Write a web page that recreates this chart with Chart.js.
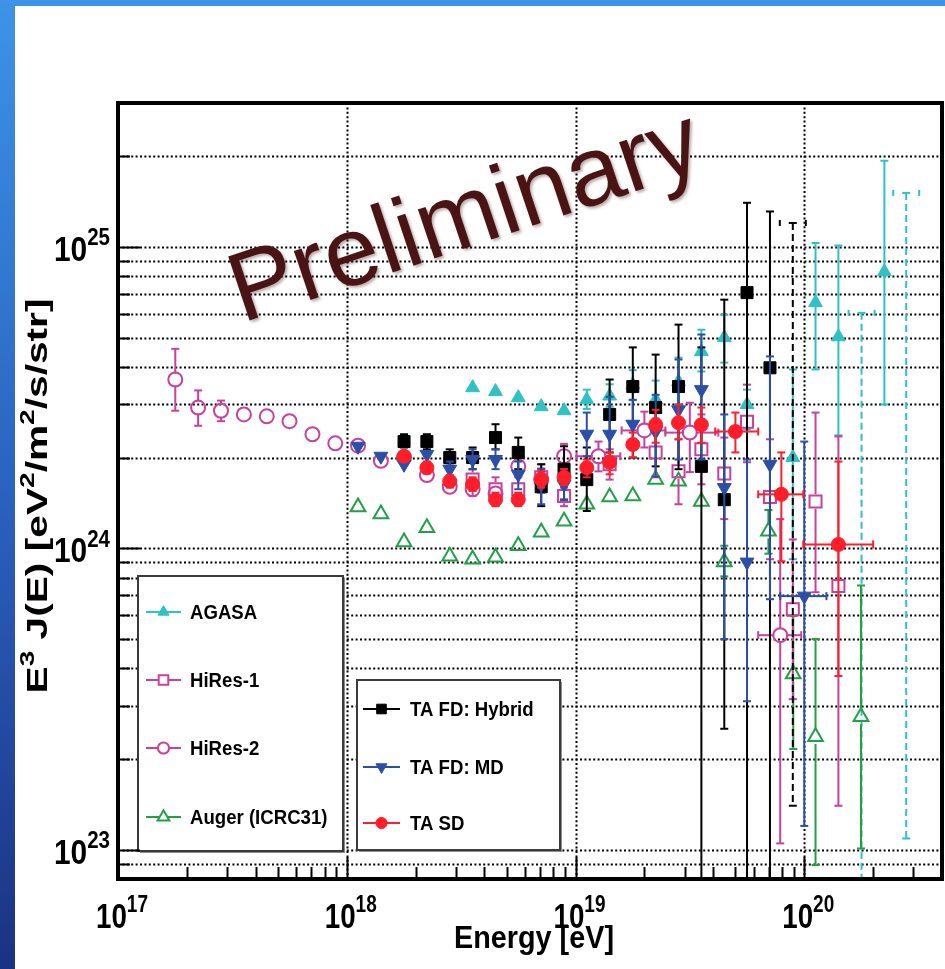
<!DOCTYPE html>
<html>
<head>
<meta charset="utf-8">
<script src="https://cdn.jsdelivr.net/npm/chart.js@4.4.1/dist/chart.umd.min.js"></script>
<style>
  html, body { margin: 0; padding: 0; background: #fff; }
  #wrap { width: 945px; height: 969px; }
</style>
</head>
<body>
<div id="wrap"><canvas id="spectrum" width="945" height="969"></canvas></div>
<script>
// axis ranges
const xMin = 1e17, xMax = 4e20;
const yMin = 8e22, yMax = 3e25;
const xDecades = [1e17, 1e18, 1e19, 1e20];
const yDecades = [1e23, 1e24, 1e25];

// HiRes-2 (monocular)
const hires2E = [1.78e17, 2.24e17, 2.82e17, 3.55e17, 4.47e17, 5.62e17, 7.08e17, 8.91e17, 1.12e18, 1.41e18, 1.78e18, 2.24e18, 2.82e18, 3.55e18, 4.47e18, 5.62e18, 7.08e18, 8.91e18, 1.26e19, 2.0e19, 3.16e19, 7.85e19];
const hires2Flux = [3.63e24, 2.93e24, 2.86e24, 2.78e24, 2.74e24, 2.64e24, 2.39e24, 2.23e24, 2.19e24, 1.95e24, 2.0e24, 1.75e24, 1.60e24, 1.57e24, 1.52e24, 1.87e24, 1.69e24, 2.02e24, 2.02e24, 2.46e24, 2.42e24, 5.15e23];
const hires2Hi = [4.59e24, 3.34e24, 3.09e24, null, null, null, null, null, null, null, null, null, null, null, null, 2.0e24, 1.84e24, 2.22e24, 2.26e24, 2.84e24, 3.04e24, 1.25e24];
const hires2Lo = [2.86e24, 2.55e24, 2.64e24, null, null, null, null, null, null, null, null, null, null, null, null, 1.74e24, 1.54e24, 1.83e24, 1.80e24, 2.16e24, 1.79e24, 1.05e23];
const hires2ELo = [null, null, null, null, null, null, null, null, null, null, null, null, null, null, null, null, null, null, 1.01e19, 1.59e19, 2.47e19, 6.29e19];
const hires2EHi = [null, null, null, null, null, null, null, null, null, null, null, null, null, null, null, null, null, null, 1.57e19, 2.47e19, 4.21e19, 9.7e19];

// HiRes-1 (monocular)
const hires1E = [3.55e18, 4.47e18, 5.62e18, 7.08e18, 8.91e18, 1.41e19, 2.24e19, 2.82e19, 3.55e19, 4.47e19, 5.62e19, 7.08e19, 8.91e19, 1.12e20, 1.41e20];
const hires1Flux = [1.69e24, 1.57e24, 1.57e24, 1.72e24, 1.49e24, 1.90e24, 2.08e24, 1.80e24, 2.13e24, 1.77e24, 2.63e24, 1.48e24, 6.28e23, 1.43e24, 7.5e23];
const hires1Hi = [1.94e24, 1.72e24, 1.72e24, 1.90e24, 1.59e24, 2.13e24, 2.48e24, 2.30e24, 2.78e24, 2.33e24, 3.49e24, 2.30e24, 1.07e24, 2.82e24, 2.35e24];
const hires1Lo = [1.49e24, 1.42e24, 1.42e24, 1.53e24, 1.38e24, 1.69e24, 1.72e24, 1.40e24, 1.63e24, 1.25e24, 1.93e24, 9.2e23, 3.16e23, 7.15e23, 1.40e23];

// AGASA
const agasaE = [3.55e18, 4.47e18, 5.62e18, 7.08e18, 8.91e18, 1.12e19, 1.41e19, 1.78e19, 2.24e19, 2.82e19, 3.55e19, 4.47e19, 5.62e19, 8.91e19, 1.12e20, 1.41e20, 2.24e20];
const agasaFlux = [3.41e24, 3.31e24, 3.16e24, 2.95e24, 2.86e24, 3.11e24, 3.2e24, 3.49e24, 3.11e24, 3.57e24, 4.49e24, 5.0e24, 3.0e24, 2.0e24, 6.53e24, 5.03e24, 8.26e24];
const agasaHi = [null, null, null, null, null, 3.36e24, 3.5e24, 3.9e24, 3.6e24, 4.29e24, 5.31e24, 5.95e24, 3.36e24, 3.92e24, 1.03e25, 1.01e25, 1.93e25];
const agasaLo = [null, null, null, null, null, 2.9e24, 2.95e24, 3.1e24, 2.7e24, 3.0e24, 3.86e24, 4.13e24, 2.48e24, 9.2e23, 3.92e24, 2.37e24, 3.0e24];
// AGASA bins drawn with dashed bars only
const agasaLimitE = [1.78e20, 2.79e20];
const agasaLimitHi = [6.04e24, 1.51e25];
const agasaLimitLo = [7e22, 1.09e23];

// Auger (ICRC 2009)
const augerE = [1.12e18, 1.41e18, 1.78e18, 2.24e18, 2.82e18, 3.55e18, 4.47e18, 5.62e18, 7.08e18, 8.91e18, 1.12e19, 1.41e19, 1.78e19, 2.24e19, 2.82e19, 3.55e19, 4.47e19, 6.97e19, 8.95e19, 1.12e20, 1.77e20];
const augerFlux = [1.37e24, 1.30e24, 1.05e24, 1.17e24, 9.42e23, 9.2e23, 9.34e23, 1.02e24, 1.13e24, 1.23e24, 1.40e24, 1.48e24, 1.49e24, 1.69e24, 1.67e24, 1.43e24, 9.0e23, 1.14e24, 3.83e23, 2.37e23, 2.76e23];
const augerHi = [null, null, null, null, null, null, null, null, null, null, null, null, null, null, null, null, 1.02e24, 1.34e24, 5.96e23, 5.0e23, 7.53e23];
const augerLo = [null, null, null, null, null, null, null, null, null, null, null, null, null, null, null, null, 8.07e23, 9.6e23, 2.16e23, 8.9e22, 1.01e23];

// TA FD hybrid
const hybridE = [1.78e18, 2.24e18, 2.82e18, 3.55e18, 4.47e18, 5.62e18, 7.08e18, 8.91e18, 1.12e19, 1.41e19, 1.78e19, 2.24e19, 2.82e19, 3.55e19, 4.47e19, 5.62e19, 7.08e19];
const hybridFlux = [2.26e24, 2.26e24, 2.0e24, 2.0e24, 2.33e24, 2.08e24, 1.60e24, 1.83e24, 1.69e24, 2.78e24, 3.44e24, 2.93e24, 3.44e24, 1.87e24, 1.45e24, 7.05e24, 3.97e24];
const hybridHi = [2.39e24, 2.39e24, 2.13e24, 2.16e24, 2.58e24, 2.33e24, 1.90e24, 2.18e24, 2.16e24, 3.63e24, 4.64e24, 4.39e24, 5.52e24, 4.64e24, 6.68e24, 1.40e25, 1.31e25];
const hybridLo = [2.16e24, 2.13e24, 1.88e24, 1.83e24, 2.13e24, 1.83e24, 1.38e24, 1.45e24, 1.33e24, 2.08e24, 2.0e24, 1.87e24, 1.83e24, 7e22, 2.52e23, 7e22, 7e22];
const hybridLimitE = [8.91e19];
const hybridLimitHi = [1.20e25];
const hybridLimitLo = [1.40e23];

// TA FD monocular (MD)
const mdE = [1.12e18, 1.41e18, 1.78e18, 2.24e18, 2.82e18, 3.55e18, 4.47e18, 5.62e18, 7.08e18, 8.91e18, 1.12e19, 1.41e19, 1.78e19, 2.24e19, 2.82e19, 3.55e19, 4.47e19, 5.62e19, 7.08e19, 1.0e20];
const mdFlux = [2.18e24, 2.02e24, 1.90e24, 2.05e24, 1.83e24, 1.97e24, 1.97e24, 1.76e24, 1.63e24, 1.63e24, 2.39e24, 2.39e24, 2.58e24, 2.44e24, 2.88e24, 3.36e24, 1.59e24, 9.0e23, 1.90e24, 6.94e23];
const mdHi = [null, null, null, null, 1.94e24, 2.13e24, 2.13e24, 1.94e24, 1.83e24, 1.83e24, 2.82e24, 3.18e24, 3.11e24, 3.23e24, 4.23e24, 5.12e24, 2.78e24, 1.97e24, 4.33e24, 2.26e24];
const mdLo = [null, null, null, null, 1.72e24, 1.83e24, 1.83e24, 1.57e24, 1.40e24, 1.45e24, 2.02e24, 1.97e24, 2.13e24, 1.73e24, 1.97e24, 1.97e24, 5.0e23, 3.11e23, 6.78e23, 1.20e23];
const mdELo = [null, null, null, null, null, null, null, null, null, null, null, null, null, null, null, null, null, null, null, 7.85e19];
const mdEHi = [null, null, null, null, null, null, null, null, null, null, null, null, null, null, null, null, null, null, null, 1.25e20];

// TA SD
const sdE = [1.78e18, 2.24e18, 2.82e18, 3.55e18, 4.47e18, 5.62e18, 7.08e18, 8.91e18, 1.12e19, 1.41e19, 1.78e19, 2.24e19, 2.82e19, 3.55e19, 5.0e19, 7.94e19, 1.41e20];
const sdFlux = [2.02e24, 1.85e24, 1.67e24, 1.63e24, 1.45e24, 1.45e24, 1.69e24, 1.72e24, 1.85e24, 1.93e24, 2.21e24, 2.57e24, 2.61e24, 2.57e24, 2.44e24, 1.51e24, 1.03e24];
const sdHi = [2.10e24, 1.94e24, 1.75e24, 1.72e24, 1.53e24, 1.53e24, 1.80e24, 1.83e24, 1.97e24, 2.08e24, 2.42e24, 2.88e24, 3.0e24, 2.93e24, 2.82e24, 2.08e24, 1.94e24];
const sdLo = [1.94e24, 1.77e24, 1.59e24, 1.55e24, 1.38e24, 1.38e24, 1.59e24, 1.62e24, 1.72e24, 1.76e24, 2.0e24, 2.24e24, 2.30e24, 2.24e24, 2.08e24, 9.06e23, 3.77e23];
const sdELo = [null, null, null, null, null, null, null, null, null, null, null, null, null, null, 4.08e19, 6.29e19, 9.9e19];
const sdEHi = [null, null, null, null, null, null, null, null, null, null, null, null, null, null, 6.29e19, 9.9e19, 2.0e20];

const COLORS = {
  agasa: '#2fc1c5',
  hires: '#c9409d',
  auger: '#22a046',
  hybrid: '#000000',
  md: '#2b4fa7',
  sd: '#ff1e2a'
};

const FONT = '"Liberation Sans", Arial, sans-serif';

const pick = (arr, i) => (arr ? arr[i] : null);
const toPoints = (e, f, hi, lo, eLo, eHi) => e.map((x, i) => ({
  x,
  y: f[i],
  yHi: pick(hi, i),
  yLo: pick(lo, i),
  xLo: pick(eLo, i),
  xHi: pick(eHi, i)
}));

const marker = (style, color, filled, radius, extra) => Object.assign({
  type: 'scatter',
  showLine: false,
  pointStyle: style,
  pointRadius: radius,
  pointHoverRadius: radius,
  pointBorderColor: color,
  pointBackgroundColor: filled ? color : 'rgba(255,255,255,0)',
  pointBorderWidth: filled ? 1 : 2,
  borderColor: color,
  backgroundColor: color,
  errorColor: color,
  errorGap: filled ? 0 : radius * 0.85
}, extra || {});

// first dataset is drawn on top
const datasets = [
  Object.assign(marker('circle', COLORS.sd, true, 7), { label: 'TA SD', data: toPoints(sdE, sdFlux, sdHi, sdLo, sdELo, sdEHi) }),
  Object.assign(marker('triangle', COLORS.md, true, 8, { pointRotation: 180 }), { label: 'TA FD: MD', data: toPoints(mdE, mdFlux, mdHi, mdLo, mdELo, mdEHi) }),
  Object.assign(marker('rect', COLORS.hybrid, true, 8.5), { label: 'TA FD: Hybrid', data: toPoints(hybridE, hybridFlux, hybridHi, hybridLo) }),
  Object.assign(marker('rect', COLORS.hybrid, true, 0, { errorDash: [7, 4], limitCap: true }), { label: 'hybrid-dashed', data: toPoints(hybridLimitE, hybridLimitHi, hybridLimitHi, hybridLimitLo) }),
  Object.assign(marker('circle', COLORS.hires, false, 7), { label: 'HiRes-2', data: toPoints(hires2E, hires2Flux, hires2Hi, hires2Lo, hires2ELo, hires2EHi) }),
  Object.assign(marker('rect', COLORS.hires, false, 8.5), { label: 'HiRes-1', data: toPoints(hires1E, hires1Flux, hires1Hi, hires1Lo) }),
  Object.assign(marker('triangle', COLORS.auger, false, 8.5), { label: 'Auger (ICRC31)', data: toPoints(augerE, augerFlux, augerHi, augerLo) }),
  Object.assign(marker('triangle', COLORS.agasa, true, 8), { label: 'AGASA', data: toPoints(agasaE, agasaFlux, agasaHi, agasaLo) }),
  Object.assign(marker('triangle', COLORS.agasa, true, 0, { errorDash: [7, 4], limitCap: true }), { label: 'agasa-dashed', data: toPoints(agasaLimitE, agasaLimitHi, agasaLimitHi, agasaLimitLo) })
];

const styleOf = (label) => datasets.find((d) => d.label === label);

// slide background: blue frame with white page
const slideBackground = {
  id: 'slideBackground',
  beforeDraw(chart) {
    const { ctx, width, height } = chart;
    const g = ctx.createLinearGradient(0, 0, 0, height);
    g.addColorStop(0, '#3d93e8');
    g.addColorStop(0.5, '#2a63c0');
    g.addColorStop(1, '#1b3282');
    ctx.save();
    ctx.fillStyle = g;
    ctx.fillRect(0, 0, width, height);
    ctx.fillStyle = '#ffffff';
    ctx.fillRect(15, 6, width - 15, height - 6);
    ctx.restore();
  }
};

// ROOT-style dotted grid and the big watermark
const gridPlugin = {
  id: 'rootGrid',
  beforeDatasetsDraw(chart) {
    const { ctx, chartArea: a, scales: { x, y } } = chart;
    ctx.save();
    ctx.strokeStyle = '#000';
    ctx.lineWidth = 1.8;
    ctx.setLineDash([2, 2.4]);
    yDecades.concat([1e22]).forEach((d) => {
      for (let m = 1; m <= 9; m++) {
        const v = d * m;
        if (v <= yMin || v >= yMax) continue;
        const py = Math.round(y.getPixelForValue(v)) + 0.5;
        ctx.beginPath();
        ctx.moveTo(a.left, py);
        ctx.lineTo(a.right, py);
        ctx.stroke();
      }
    });
    ctx.lineWidth = 2;
    xDecades.forEach((d) => {
      if (d <= xMin || d >= xMax) return;
      const px = Math.round(x.getPixelForValue(d)) + 0.5;
      ctx.beginPath();
      ctx.moveTo(px, a.top);
      ctx.lineTo(px, a.bottom);
      ctx.stroke();
    });
    ctx.restore();

    // watermark
    ctx.save();
    ctx.translate(242, 323);
    ctx.rotate(-18.5 * Math.PI / 180);
    ctx.font = `98px ${FONT}`;
    ctx.fillStyle = '#4b1414';
    ctx.shadowColor = 'rgba(60,20,20,0.35)';
    ctx.shadowBlur = 3;
    ctx.shadowOffsetX = 2;
    ctx.shadowOffsetY = 2;
    ctx.textBaseline = 'alphabetic';
    ctx.fillText('Preliminary', 0, 0);
    ctx.restore();
  }
};

// vertical / horizontal error bars, drawn under each dataset's markers
const errorBarPlugin = {
  id: 'errorBars',
  beforeDatasetDraw(chart, args) {
    const ds = chart.data.datasets[args.index];
    const { ctx, chartArea: a, scales: { x, y } } = chart;
    const cap = 4;
    const gap = ds.errorGap || 0;
    const seg = (x0, y0, x1, y1) => {
      ctx.beginPath();
      ctx.moveTo(x0, y0);
      ctx.lineTo(x1, y1);
      ctx.stroke();
    };
    ctx.save();
    ctx.beginPath();
    ctx.rect(a.left, a.top, a.width, a.height);
    ctx.clip();
    ctx.strokeStyle = ds.errorColor;
    ctx.lineWidth = 2;
    ds.data.forEach((p) => {
      const px = x.getPixelForValue(p.x);
      const py = y.getPixelForValue(p.y);
      if (p.yHi != null && p.yLo != null) {
        const top = y.getPixelForValue(p.yHi);
        const bot = y.getPixelForValue(p.yLo);
        ctx.setLineDash(ds.errorDash || []);
        if (py - gap > top) seg(px, top, px, py - gap);
        if (bot > py + gap) seg(px, py + gap, px, bot);
        ctx.setLineDash([]);
        seg(px - cap, top, px + cap, top);
        seg(px - cap, bot, px + cap, bot);
        if (ds.limitCap) {
          seg(px - 13, top - 3, px - 13, top + 3);
          seg(px + 13, top - 3, px + 13, top + 3);
        }
      }
      if (p.xLo != null && p.xHi != null) {
        const l = x.getPixelForValue(p.xLo);
        const r = x.getPixelForValue(p.xHi);
        if (px - gap > l) seg(l, py, px - gap, py);
        if (r > px + gap) seg(px + gap, py, r, py);
        seg(l, py - cap, l, py + cap);
        seg(r, py - cap, r, py + cap);
      }
    });
    ctx.restore();
  }
};

// rich text: [text, isSuperscript] pairs, squeezed horizontally to a given width
function richWidth(ctx, parts, size) {
  let w = 0;
  parts.forEach(([t, sup]) => {
    ctx.font = `bold ${sup ? Math.round(size * 0.68) : size}px ${FONT}`;
    w += ctx.measureText(t).width;
  });
  return w;
}
function drawRich(ctx, parts, x, y, size, width, align) {
  const raw = richWidth(ctx, parts, size);
  const squeeze = width / raw;
  let cx = align === 'center' ? x - width / 2 : align === 'right' ? x - width : x;
  ctx.save();
  ctx.fillStyle = '#000';
  ctx.textBaseline = 'alphabetic';
  ctx.textAlign = 'left';
  parts.forEach(([t, sup]) => {
    const fs = sup ? Math.round(size * 0.68) : size;
    ctx.font = `bold ${fs}px ${FONT}`;
    const tw = ctx.measureText(t).width;
    ctx.save();
    ctx.translate(cx, sup ? y - size * 0.45 : y);
    ctx.scale(squeeze, 1);
    ctx.fillText(t, 0, 0);
    ctx.restore();
    cx += tw * squeeze;
  });
  ctx.restore();
}

function drawLegendBox(ctx, box, rows) {
  ctx.save();
  ctx.fillStyle = '#8c8c8c';
  ctx.fillRect(box.x + 2, box.y + 2, box.w, box.h);
  ctx.fillStyle = '#fff';
  ctx.fillRect(box.x, box.y, box.w, box.h);
  ctx.strokeStyle = '#3a3a3a';
  ctx.lineWidth = 2;
  ctx.strokeRect(box.x, box.y, box.w, box.h);
  rows.forEach((r) => {
    const ds = styleOf(r.label);
    const cx = (box.x0 + box.x1) / 2;
    ctx.strokeStyle = ds.borderColor;
    ctx.lineWidth = 2;
    ctx.beginPath();
    ctx.moveTo(box.x0, r.y);
    ctx.lineTo(box.x1, r.y);
    ctx.stroke();
    // open markers blank the line behind them
    if (ds.pointBorderWidth > 1) {
      ctx.fillStyle = '#fff';
      Chart.helpers.drawPoint(ctx, {
        pointStyle: ds.pointStyle,
        rotation: ds.pointRotation || 0,
        radius: ds.pointRadius * 0.8,
        borderWidth: 0
      }, cx, r.y);
    }
    ctx.fillStyle = ds.pointBackgroundColor;
    ctx.strokeStyle = ds.pointBorderColor;
    ctx.lineWidth = ds.pointBorderWidth;
    Chart.helpers.drawPoint(ctx, {
      pointStyle: ds.pointStyle,
      rotation: ds.pointRotation || 0,
      radius: ds.pointRadius * 0.8,
      borderWidth: ds.pointBorderWidth
    }, cx, r.y);
    ctx.fillStyle = '#000';
    ctx.font = `bold 20px ${FONT}`;
    ctx.save();
    ctx.translate(box.tx, r.y + 7);
    ctx.scale(0.93, 1);
    ctx.fillText(r.label, 0, 0);
    ctx.restore();
  });
  ctx.restore();
}

// axes frame, ticks, labels and legends
const framePlugin = {
  id: 'rootFrame',
  afterDraw(chart) {
    const { ctx, chartArea: a, scales: { x, y } } = chart;

    drawLegendBox(ctx, { x: 138, y: 576, w: 205, h: 275, x0: 146, x1: 181, tx: 190 }, [
      { label: 'AGASA', y: 612 },
      { label: 'HiRes-1', y: 680 },
      { label: 'HiRes-2', y: 748 },
      { label: 'Auger (ICRC31)', y: 817 }
    ]);
    drawLegendBox(ctx, { x: 357, y: 680, w: 203, h: 170, x0: 363, x1: 400, tx: 410 }, [
      { label: 'TA FD: Hybrid', y: 709 },
      { label: 'TA FD: MD', y: 767 },
      { label: 'TA SD', y: 823 }
    ]);

    ctx.save();
    ctx.strokeStyle = '#000';
    ctx.lineWidth = 2;
    // y ticks on the left axis
    yDecades.concat([1e22]).forEach((d) => {
      for (let m = 1; m <= 9; m++) {
        const v = d * m;
        if (v <= yMin || v >= yMax) continue;
        const py = Math.round(y.getPixelForValue(v)) + 0.5;
        const len = m === 1 ? 22 : 12;
        ctx.beginPath();
        ctx.moveTo(a.left, py);
        ctx.lineTo(a.left + len, py);
        ctx.stroke();
      }
    });
    // x ticks on the bottom axis
    xDecades.forEach((d) => {
      for (let m = 1; m <= 9; m++) {
        const v = d * m;
        if (v <= xMin || v >= xMax) continue;
        const px = Math.round(x.getPixelForValue(v)) + 0.5;
        const len = m === 1 ? 22 : 12;
        ctx.beginPath();
        ctx.moveTo(px, a.bottom);
        ctx.lineTo(px, a.bottom - len);
        ctx.stroke();
      }
    });
    ctx.lineWidth = 4;
    ctx.strokeRect(a.left, a.top, a.right - a.left, a.bottom - a.top);
    ctx.restore();

    xDecades.forEach((d) => {
      const exp = String(Math.round(Math.log10(d)));
      drawRich(ctx, [['10', false], [exp, true]], x.getPixelForValue(d) + 4, 928, 35, 52, 'center');
    });
    yDecades.forEach((d) => {
      const exp = String(Math.round(Math.log10(d)));
      drawRich(ctx, [['10', false], [exp, true]], 110, y.getPixelForValue(d) + 14, 35, 56, 'right');
    });

    drawRich(ctx, [['Energy [eV]', false]], 534, 948, 32, 160, 'center');

    ctx.save();
    ctx.translate(47, 496);
    ctx.rotate(-Math.PI / 2);
    drawRich(ctx, [['E', false], ['3', true], [' J(E) [eV', false], ['2', true], ['/m', false], ['2', true], ['/s/str]', false]], 0, 0, 29, 395, 'center');
    ctx.restore();
  }
};

new Chart(document.getElementById('spectrum'), {
  type: 'scatter',
  data: { datasets },
  options: {
    responsive: false,
    devicePixelRatio: 1,
    animation: false,
    events: [],
    layout: { autoPadding: false, padding: { left: 118, top: 103, right: 3, bottom: 90 } },
    scales: {
      x: { type: 'logarithmic', min: xMin, max: xMax, display: false },
      y: { type: 'logarithmic', min: yMin, max: yMax, display: false }
    },
    plugins: {
      legend: { display: false },
      tooltip: { enabled: false }
    }
  },
  plugins: [slideBackground, gridPlugin, errorBarPlugin, framePlugin]
});
</script>
</body>
</html>
